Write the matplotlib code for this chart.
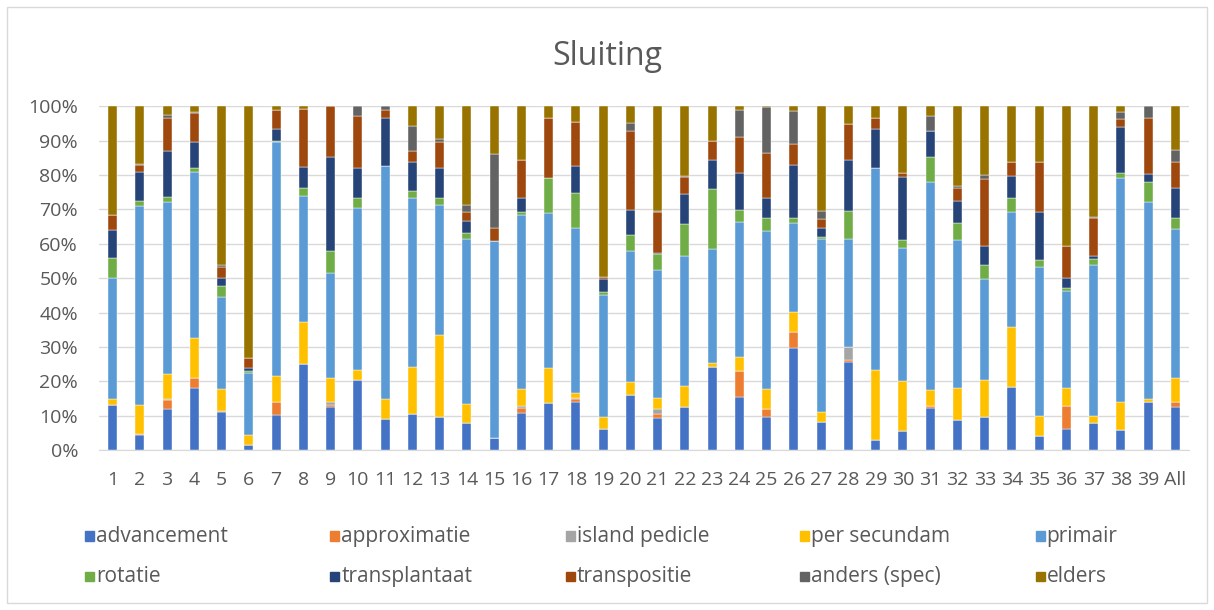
import numpy as np
import matplotlib.pyplot as plt
from matplotlib.patches import Rectangle

plt.rcParams['font.family'] = ['Open Sans', 'DejaVu Sans']

labels = [str(i) for i in range(1, 40)] + ['All']
series = ['advancement', 'approximatie', 'island pedicle', 'per secundam', 'primair',
          'rotatie', 'transplantaat', 'transpositie', 'anders (spec)', 'elders']
colors = ['#4472C4', '#ED7D31', '#A5A5A5', '#FFC000', '#5B9BD5',
          '#70AD47', '#264478', '#9E480E', '#636363', '#997300']

# percentages per bar, columns in the order of `series`
advancement  = [13, 4.5, 12, 18, 11.2, 1.4, 10.2, 25.1, 12.5, 20.3, 9, 10.4, 9.6, 7.8, 3.4, 10.7, 13.7, 14, 6.3, 15.9,
                9.3, 12.5, 24.2, 15.4, 9.6, 29.8, 8.3, 25.7, 3.1, 5.6, 12.2, 8.8, 9.6, 18.5, 4.2, 6.3, 8, 6, 14.1, 12.5]
approximatie = [0, 0.3, 2.5, 3, 0.3, 0, 3.7, 0, 0.7, 0, 0, 0, 0, 0, 0, 1.5, 0, 0.8, 0, 0,
                1.2, 0, 0, 7.5, 2.4, 4.5, 0, 0.4, 0, 0, 0.5, 0, 0, 0, 0, 6.4, 0, 0, 0, 1.5]
island       = [0, 0, 0.5, 0, 0, 0, 0.2, 0, 0.7, 0, 0, 0, 0, 0, 0, 0.5, 0, 0.5, 0, 0,
                1.4, 0, 0, 0, 0, 0, 0, 3.9, 0, 0, 0, 0, 0, 0, 0, 0, 0, 0, 0, 0]
per_secundam = [2, 8.2, 7, 11.5, 6.4, 3, 7.6, 12.2, 7, 3.1, 5.8, 13.8, 23.9, 5.7, 0, 5.1, 10.2, 1.3, 3.3, 3.9,
                3.2, 6.3, 1.2, 4.2, 5.9, 5.9, 2.9, 0, 20.3, 14.4, 4.7, 9.4, 10.7, 17.3, 5.8, 5.3, 1.8, 8, 0.8, 7]
primair      = [35, 58, 50, 48.5, 26.5, 18, 67.8, 36.7, 30.6, 47, 67.8, 49, 37.9, 48, 57.3, 50.7, 45.1, 48.1, 35.6, 38.2,
                37.3, 37.5, 33.1, 39.2, 45.8, 25.9, 50.3, 31.5, 58.7, 38.7, 60.6, 43, 29.5, 33.5, 43.2, 28.3, 44.1, 65.2, 57.1, 43.4]
rotatie      = [6, 1.5, 1.5, 1, 3.4, 0.7, 0.3, 2.1, 6.4, 3, 0, 2.2, 2, 1.5, 0, 0.8, 10.2, 10.1, 0.7, 4.4,
                4.5, 9.4, 17.3, 3.5, 3.9, 1.4, 0.6, 8, 0, 2.5, 7.2, 4.8, 4.1, 4.1, 2.1, 0.7, 1.7, 1.5, 6, 3.1]
transplant   = [8, 8.5, 13.5, 7.5, 2.2, 0.8, 3.6, 6.1, 27.3, 8.7, 14, 8.5, 8.6, 3.7, 0, 4.1, 0, 7.9, 3.9, 7.4,
                0.5, 8.7, 8.4, 10.9, 5.8, 15.4, 2.6, 14.9, 11.3, 18.3, 7.5, 6.5, 5.4, 6.4, 14, 3, 0.8, 13.3, 2.3, 8.6]
transpositie = [4.5, 2, 9.5, 8.5, 3.2, 2.9, 5.4, 17.1, 14.8, 14.9, 2.4, 3.1, 7.6, 2.6, 4, 10.8, 17.4, 12.7, 0.6, 22.9,
                11.9, 4.9, 5.8, 10.2, 13.1, 6.1, 2.6, 10.4, 3.2, 1.2, 0, 3.6, 19.4, 4.1, 14.6, 9.3, 11.1, 2.3, 16.3, 7.6]
anders       = [0, 0.3, 1, 0.3, 0.5, 0, 0, 0, 0, 3, 1, 7.1, 0.8, 2.1, 21.3, 0, 0, 0, 0, 2.4,
                0.2, 0.4, 0, 7.9, 13.2, 9.5, 2.3, 0, 0, 0, 4.4, 0.7, 1.3, 0, 0, 0, 0.3, 2, 3.4, 3.6]
elders       = [31.5, 16.7, 2.5, 1.7, 46.3, 73.2, 1.2, 0.7, 0, 0, 0, 5.9, 9.6, 28.6, 14, 15.8, 3.4, 4.6, 49.6, 4.9,
                30.5, 20.3, 10, 1.2, 0.3, 1.5, 30.4, 5.2, 3.4, 19.3, 2.9, 23.2, 20, 16.1, 16.1, 40.7, 32.2, 1.7, 0, 12.7]

data = np.array([advancement, approximatie, island, per_secundam, primair,
                 rotatie, transplant, transpositie, anders, elders], dtype=float)
data = data / data.sum(axis=0) * 100

fig = plt.figure(figsize=(12.14, 6.1), dpi=100)
ax = fig.add_axes([0.0815, 0.262, 0.898, 0.564])

x = np.arange(len(labels))
bottom = np.zeros(len(labels))
for vals, col in zip(data, colors):
    ax.bar(x, vals, 0.33, bottom=bottom, color=col, edgecolor='white', linewidth=0.3, zorder=3)
    bottom += vals

ax.set_xlim(-0.5, len(labels) - 0.5)
ax.set_ylim(0, 100)
ax.set_yticks(range(0, 101, 10))
ax.set_yticklabels([f'{v}%' for v in range(0, 101, 10)])
ax.set_xticks(x)
ax.set_xticklabels(labels)
ax.yaxis.grid(True, color='#D9D9D9', linewidth=1, zorder=0)
for s in ['top', 'right', 'left']:
    ax.spines[s].set_visible(False)
ax.spines['bottom'].set_color('#D9D9D9')
ax.tick_params(axis='both', length=0, labelsize=14, colors='#595959')
ax.tick_params(axis='x', pad=15)
ax.tick_params(axis='y', pad=15)

fig.text(0.5, 0.893, 'Sluiting', ha='center', va='baseline', fontsize=23, color='#595959')

# legend, two rows of five
col_x = [0.070, 0.272, 0.466, 0.659, 0.853]
row_y = [0.121, 0.055]
for i, (name, col) in enumerate(zip(series, colors)):
    r, c = divmod(i, 5)
    fig.patches.append(Rectangle((col_x[c], row_y[r] - 0.008), 0.0075, 0.016,
                                 transform=fig.transFigure, color=col, figure=fig))
    fig.text(col_x[c] + 0.009, row_y[r], name, ha='left', va='center', fontsize=15, color='#595959')

fig.patches.append(Rectangle((0.006, 0.012), 0.988, 0.976, transform=fig.transFigure,
                             fill=False, edgecolor='#D9D9D9', linewidth=1, figure=fig))

fig.savefig('out.png', dpi=100)
